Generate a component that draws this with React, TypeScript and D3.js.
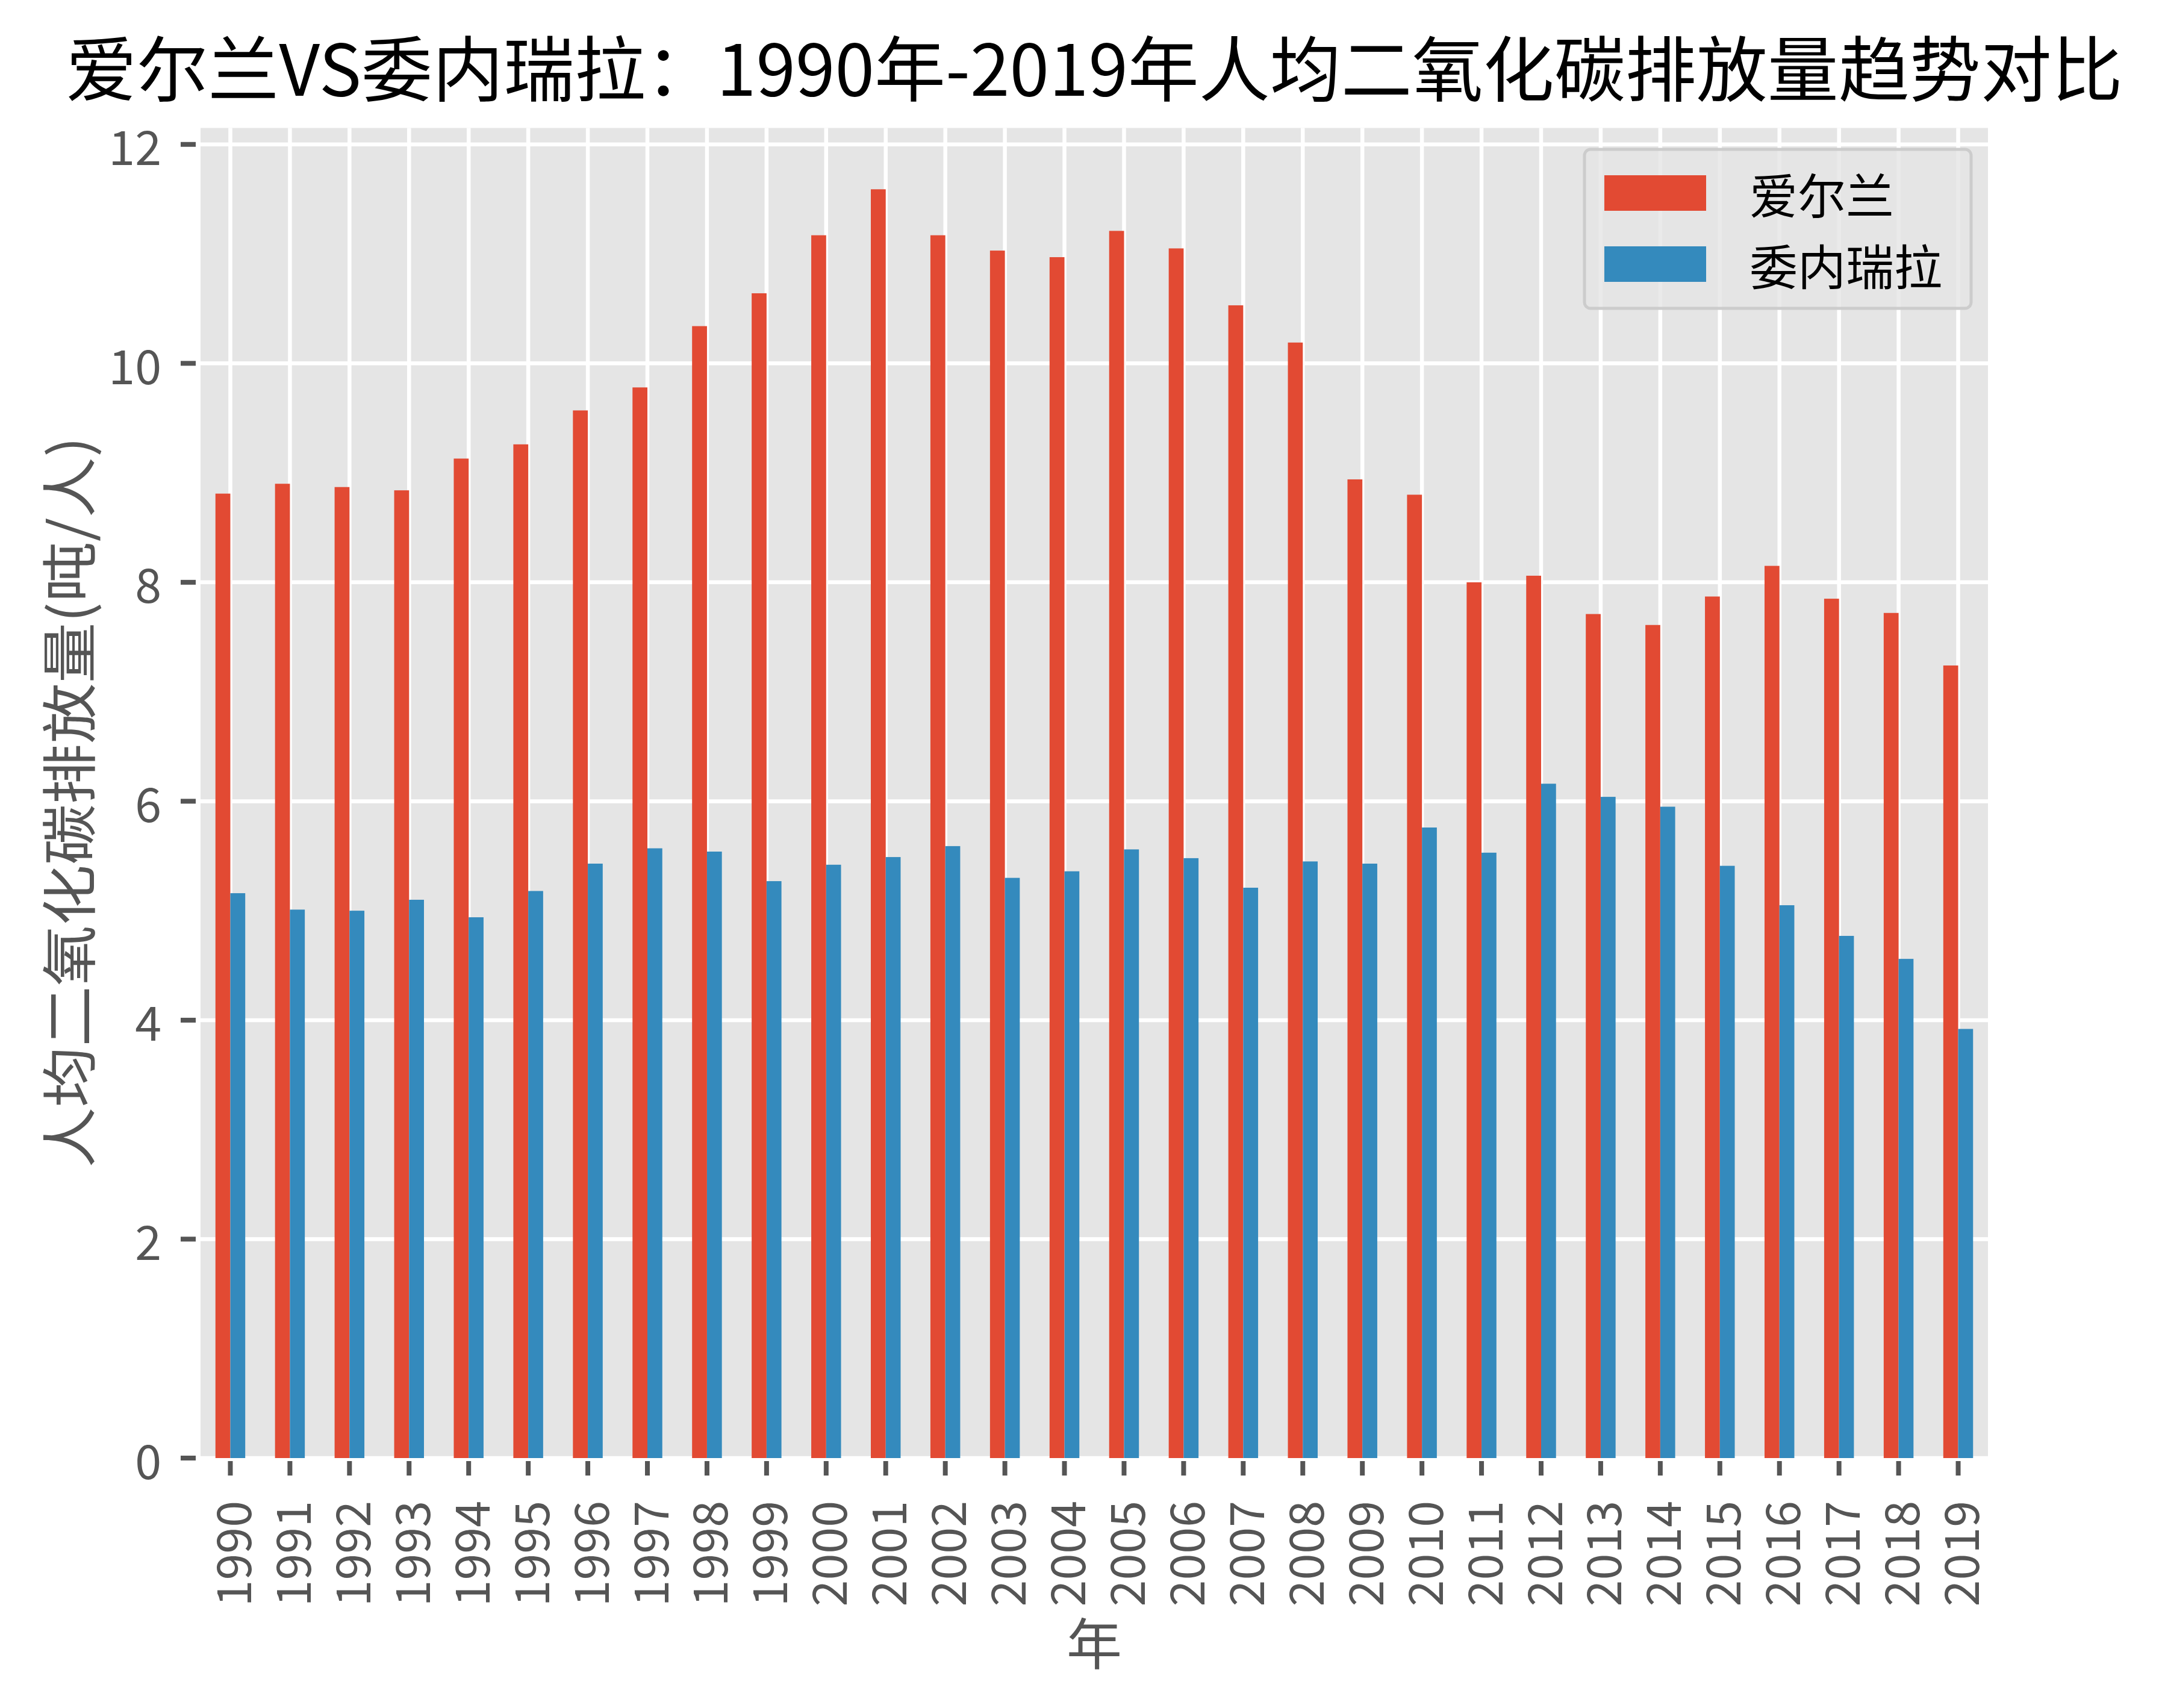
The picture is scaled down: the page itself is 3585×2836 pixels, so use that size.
import React from "react";
import * as d3 from "d3";

const years: string[] = [
  "1990","1991","1992","1993","1994","1995","1996","1997","1998","1999",
  "2000","2001","2002","2003","2004","2005","2006","2007","2008","2009",
  "2010","2011","2012","2013","2014","2015","2016","2017","2018","2019",
];
const ireland: number[] = [
  8.81, 8.90, 8.87, 8.84, 9.13, 9.26, 9.57, 9.78, 10.34, 10.64,
  11.17, 11.59, 11.17, 11.03, 10.97, 11.21, 11.05, 10.53, 10.19, 8.94,
  8.80, 8.00, 8.06, 7.71, 7.61, 7.87, 8.15, 7.85, 7.72, 7.24,
];
const venezuela: number[] = [
  5.16, 5.01, 5.00, 5.10, 4.94, 5.18, 5.43, 5.57, 5.54, 5.27,
  5.42, 5.49, 5.59, 5.30, 5.36, 5.56, 5.48, 5.21, 5.45, 5.43,
  5.76, 5.53, 6.16, 6.04, 5.95, 5.41, 5.05, 4.77, 4.56, 3.92,
];
const seriesNames: string[] = ["爱尔兰", "委内瑞拉"];
const seriesColors: string[] = ["#E24A33", "#348ABD"];
const yTicks: number[] = [0, 2, 4, 6, 8, 10, 12];
const title = "爱尔兰VS委内瑞拉：1990年-2019年人均二氧化碳排放量趋势对比";
const xLabel = "年";
const yLabel = "人均二氧化碳排放量(吨/人)";

const W = 3585;
const H = 2836;
const L = 333, R = 3301, T = 212.5, B = 2421;
const FONT = "'Noto Sans CJK SC', 'Noto Sans', sans-serif";
const TICK = "#555555";

export default function App() {
  const x = d3.scaleBand<string>().domain(years).range([L, R]).paddingInner(0).paddingOuter(0);
  const bw = x.bandwidth();
  const y = d3.scaleLinear().domain([0, 12.15]).range([B, T]);
  const series = [ireland, venezuela];

  return (
    <svg width={W} height={H} viewBox={`0 0 ${W} ${H}`} style={{ display: "block", position: "absolute", left: 0, top: 0, background: "#fff" }}>
      <rect x={0} y={0} width={W} height={H} fill="#ffffff" />
      <rect x={L} y={T} width={R - L} height={B - T} fill="#E5E5E5" />
      {/* grid */}
      {yTicks.map((t) => (
        <line key={"gy" + t} x1={L} x2={R} y1={y(t)} y2={y(t)} stroke="#ffffff" strokeWidth={6.5} />
      ))}
      {years.map((yr) => {
        const cx = (x(yr) as number) + bw / 2;
        return <line key={"gx" + yr} x1={cx} x2={cx} y1={T} y2={B} stroke="#ffffff" strokeWidth={6.5} />;
      })}
      {/* bars */}
      {series.map((vals, si) =>
        vals.map((v, i) => {
          const cx = (x(years[i]) as number) + bw / 2;
          const x0 = si === 0 ? cx - bw * 0.25 : cx;
          return (
            <rect key={si + "-" + i} x={x0} y={y(v)} width={bw * 0.25} height={y(0) - y(v)} fill={seriesColors[si]} />
          );
        })
      )}
      {/* y ticks */}
      {yTicks.map((t) => (
        <g key={"yt" + t}>
          <line x1={300} x2={325} y1={y(t)} y2={y(t)} stroke={TICK} strokeWidth={8} />
          <text x={268} y={y(t)} textAnchor="end" dominantBaseline="central" fontFamily={FONT} fontSize={79} fill={TICK}>
            {t}
          </text>
        </g>
      ))}
      {/* x ticks */}
      {years.map((yr) => {
        const cx = (x(yr) as number) + bw / 2;
        return (
          <g key={"xt" + yr}>
            <line x1={cx} x2={cx} y1={2426} y2={2450} stroke={TICK} strokeWidth={8} />
            <text
              transform={`translate(${cx},2492) rotate(-90)`}
              textAnchor="end"
              dominantBaseline="central"
              fontFamily={FONT}
              fontSize={79}
              fill={TICK}
            >
              {yr}
            </text>
          </g>
        );
      })}
      {/* axis labels */}
      <text x={(L + R) / 2} y={2764} textAnchor="middle" fontFamily={FONT} fontSize={92} fill={TICK}>
        {xLabel}
      </text>
      <text
        transform={`translate(109,1332) rotate(-90)`}
        textAnchor="middle"
        dominantBaseline="central"
        fontFamily={FONT}
        fontSize={93}
        fill={TICK}
        textLength={1214}
        lengthAdjust="spacingAndGlyphs"
      >
        {yLabel}
      </text>
      {/* title */}
      <text
        x={(L + R) / 2}
        y={159}
        textAnchor="middle"
        fontFamily={FONT}
        fontSize={118}
        fill="#000000"
      >
        {title}
      </text>
      {/* legend */}
      <rect x={2631} y={248} width={642} height={264} rx={10} ry={10} fill="#E5E5E5" fillOpacity={0.8} stroke="#CCCCCC" strokeWidth={5} />
      {seriesNames.map((n, i) => (
        <g key={"lg" + n}>
          <rect x={2664} y={291 + i * 118} width={169} height={59} fill={seriesColors[i]} />
          <text x={2905} y={320 + i * 118} dominantBaseline="central" fontFamily={FONT} fontSize={80} fill="#000000">
            {n}
          </text>
        </g>
      ))}
    </svg>
  );
}
